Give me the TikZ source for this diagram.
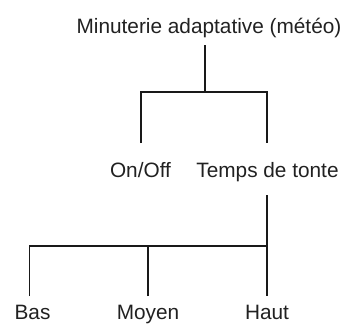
\documentclass[tikz,border=0pt]{standalone}
\usepackage{fontspec}
\setmainfont{Liberation Sans}
\begin{document}
\begin{tikzpicture}[x=1pt,y=-1pt,
  lbl/.style={inner sep=0pt, anchor=base, font=\fontsize{20.8}{24}\selectfont, text=black!87},
  conn/.style={line width=1.8pt, draw=black!90}]
\useasboundingbox (0,0) rectangle (345,324);
\node[lbl] (title) at (209,33) {Minuterie adaptative (météo)};
\node[lbl] (onoff) at (140.5,177) {On/Off};
\node[lbl] (temps) at (267.5,177) {Temps de tonte};
\node[lbl] (bas) at (32.5,319.5) {Bas};
\node[lbl] (moyen) at (148,319.5) {Moyen};
\node[lbl] (haut) at (267,319.5) {Haut};
% first level
\coordinate (t0) at (205,45);
\coordinate (j1) at (205,92);
\draw[conn] (t0) -- (j1);
\draw[conn] ([xshift=0.5pt]onoff.center |- 0,143) |- (j1) -| ([xshift=-0.5pt]temps.center |- 0,143);
% second level
\coordinate (j2) at (267,246);
\draw[conn] (haut.center |- 0,195) -- (haut.center |- 0,296);
\draw[conn] ([xshift=-3pt]bas.center |- 0,296) |- (j2);
\draw[conn] (moyen.center |- 0,296) -- (moyen.center |- j2);
\end{tikzpicture}
\end{document}
